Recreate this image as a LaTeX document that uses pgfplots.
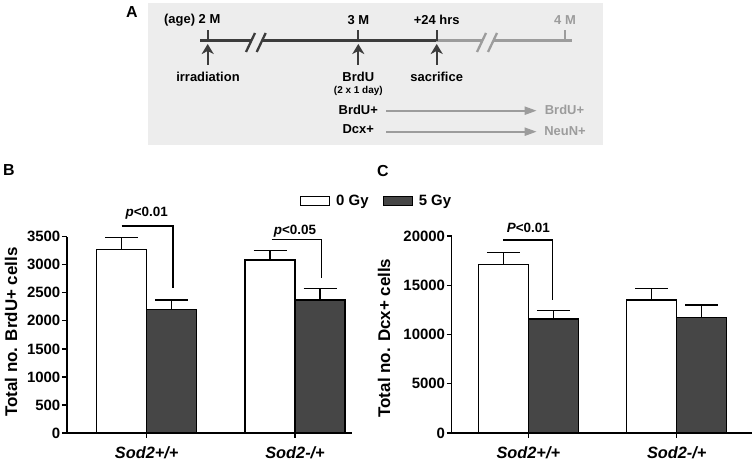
\documentclass[border=0pt]{standalone}
\usepackage{fontspec}
\setmainfont{Liberation Sans}
\usepackage{pgfplots}
\pgfplotsset{compat=1.18}
\usetikzlibrary{arrows.meta}
\definecolor{boxgray}{HTML}{EDEDED}
\definecolor{darkline}{HTML}{3C3C3C}
\definecolor{lightline}{HTML}{9C9C9C}
\definecolor{darkbar}{HTML}{464646}
\newcommand{\tf}{\fontsize{13}{13}\selectfont\bfseries}
\pgfplotsset{
  panel/.style={
    scale only axis,
    clip=false,
    axis x line*=bottom,
    axis y line*=left,
    axis line style={line width=1.4bp, black},
    ybar=0pt,
    bar width=50bp,
    xtick={1,2},
    xticklabels={Sod2+/+, Sod2-/+},
    tick style={line width=1.3bp, black},
    major tick length=5bp,
    tick align=outside,
    scaled y ticks=false,
    y tick label style={font=\fontsize{15}{15}\selectfont\bfseries, inner sep=1.5bp},
    x tick label style={font=\fontsize{16.4}{16.4}\selectfont\bfseries\itshape, yshift=-5bp},
    /pgf/number format/assume math mode=true,
    /pgf/number format/1000 sep={},
    ylabel style={font=\fontsize{17}{17}\selectfont\bfseries, anchor=center},
    ymin=0,
  },
  whitebar/.style={fill=white, draw=black, line width=1.4bp,
    error bars/.cd, y dir=plus, y explicit,
    error bar style={line width=1.4bp, black},
    error mark options={rotate=90, mark size=16.5bp, line width=1.4bp, black}},
  darkbar/.style={fill=darkbar, draw=black, line width=1.4bp,
    error bars/.cd, y dir=plus, y explicit,
    error bar style={line width=1.4bp, black},
    error mark options={rotate=90, mark size=16.5bp, line width=1.4bp, black}},
}
\begin{document}
\begin{tikzpicture}[x=1bp,y=1bp]
\useasboundingbox (0,0) rectangle (756,462);
% ---------- Panel A ----------
\node[font=\fontsize{16}{16}\selectfont\bfseries] at (132,450) {A};
\fill[boxgray] (148.3,317) rectangle (603.3,458.7);
\draw[line width=3bp, darkline] (200,421) -- (250.5,421);
\draw[line width=3bp, darkline] (261.5,421) -- (436,421);
\draw[line width=3bp, lightline] (436,421) -- (481.7,421);
\draw[line width=3bp, lightline] (493,421) -- (571.7,421);
\draw[line width=2.3bp, darkline] (246,410) -- (255,429);
\draw[line width=2.3bp, darkline] (256.7,410) -- (265.7,429);
\draw[line width=2.3bp, lightline] (477,410) -- (486,429);
\draw[line width=2.3bp, lightline] (488,410) -- (497,429);
\draw[line width=2bp, darkline] (207.7,421) -- (207.7,432);
\draw[line width=2bp, darkline] (358.3,421) -- (358.3,432);
\draw[line width=2bp, darkline] (436.7,421) -- (436.7,432);
\draw[line width=2bp, lightline] (565,421) -- (565,432);
\foreach \xx in {207.7,358.3,436.7}{
  \draw[line width=2bp, darkline, -{Stealth[length=10bp,width=12bp,inset=3bp]}] (\xx,397) -- (\xx,418);
}
\node[font=\tf, anchor=east, inner sep=0pt] at (220.5,442) {(age) 2 M};
\node[font=\tf] at (358.3,442) {3 M};
\node[font=\tf] at (436.7,442) {+24 hrs};
\node[font=\tf, text=lightline] at (565,442) {4 M};
\node[font=\tf] at (208,385) {irradiation};
\node[font=\tf] at (358.3,385) {BrdU};
\node[font=\fontsize{10}{10}\selectfont\bfseries] at (358.3,371.3) {(2 x 1 day)};
\node[font=\tf] at (436.7,385) {sacrifice};
\node[font=\tf] at (358.3,352) {BrdU+};
\node[font=\tf] at (358.3,332.5) {Dcx+};
\draw[line width=2bp, lightline, -{Triangle[length=12bp,width=8bp]}] (386,351.3) -- (536.7,351.3);
\draw[line width=2bp, lightline, -{Triangle[length=12bp,width=8bp]}] (386,330.3) -- (536.7,330.3);
\node[font=\tf, text=lightline] at (564.5,352) {BrdU+};
\node[font=\tf, text=lightline] at (565,331.3) {NeuN+};
% ---------- Panel labels ----------
\node[font=\fontsize{16}{16}\selectfont\bfseries] at (9,292) {B};
\node[font=\fontsize{16}{16}\selectfont\bfseries] at (383,291) {C};
% ---------- Panel B ----------
\begin{axis}[panel,
  at={(67bp,29bp)}, anchor=south west,
  width=285bp, height=196.3bp,
  xmin=0.463, xmax=2.384, ymax=3500,
  ytick={0,500,...,3500},
  ylabel={Total no. BrdU+ cells},
  ylabel style={at={(axis description cs:-0.196,0.514)}},
  legend columns=2,
  legend style={at={(axis description cs:0.8175,1.182)}, anchor=west,
    draw=none, fill=none, inner sep=0pt, outer sep=0pt,
    font=\fontsize{15}{15}\selectfont\bfseries,
    /tikz/every odd column/.append style={column sep=4bp},
    /tikz/every even column/.append style={column sep=12bp}},
  legend image code/.code={\draw[line width=1.2bp] (0bp,-4.2bp) rectangle (29bp,4.2bp);},
]
\addplot[whitebar] coordinates {(1,3275) +- (0,210) (2,3084) +- (0,166)};
\addplot[darkbar] coordinates {(1,2205) +- (0,166) (2,2371) +- (0,201)};
\legend{0 Gy, 5 Gy}
\draw[line width=1.4bp] (axis cs:0.831,3690) -- (axis cs:1.177,3690) -- (axis cs:1.177,2585);
\draw[line width=1.4bp] (axis cs:1.843,3453) -- (axis cs:2.18,3453) -- (axis cs:2.18,2758);
\node[font=\fontsize{13.5}{13.5}\selectfont\bfseries] at (axis cs:1.0,3922) {\textit{p}<0.01};
\node[font=\fontsize{13.5}{13.5}\selectfont\bfseries] at (axis cs:2.0,3600) {\textit{p}<0.05};
\end{axis}
% ---------- Panel C ----------
\begin{axis}[panel,
  at={(451.7bp,29bp)}, anchor=south west,
  width=300bp, height=197bp,
  xmin=0.484, xmax=2.505, ymax=20000,
  ytick={0,5000,...,20000},
  ylabel={Total no. Dcx+ cells},
  ylabel style={at={(axis description cs:-0.2257,0.482)}},
]
\addplot[whitebar] coordinates {(1,17127) +- (0,1218) (2,13503) +- (0,1187)};
\addplot[darkbar] coordinates {(1,11574) +- (0,846) (2,11710) +- (0,1285)};
\draw[line width=1.4bp] (axis cs:0.832,19594) -- (axis cs:1.164,19594) -- (axis cs:1.164,13503);
\node[font=\fontsize{13.5}{13.5}\selectfont\bfseries] at (axis cs:1.0,20812) {\textit{P}<0.01};
\end{axis}
\end{tikzpicture}
\end{document}
